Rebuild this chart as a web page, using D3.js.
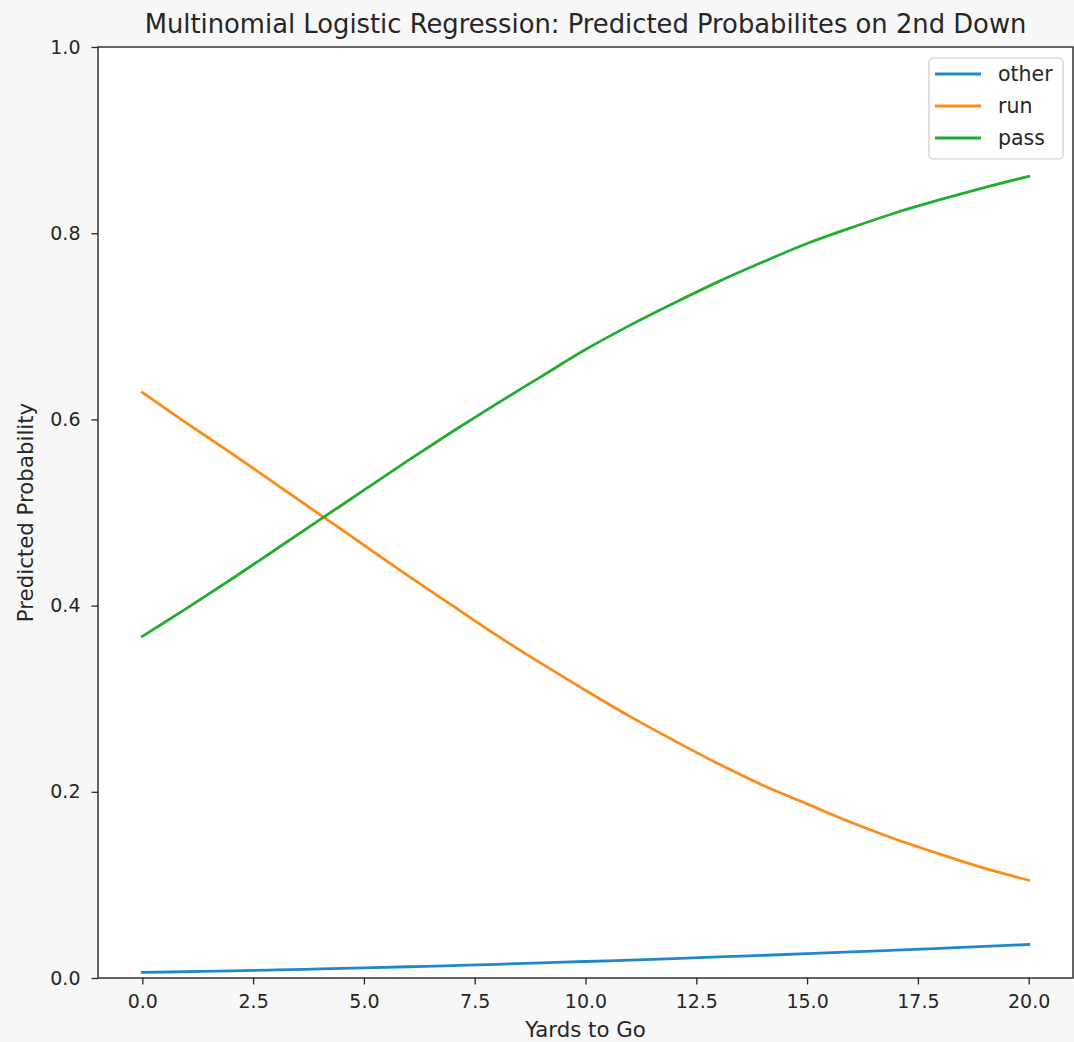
<!DOCTYPE html>
<html>
<head>
<meta charset="utf-8">
<script src="https://cdn.jsdelivr.net/npm/d3@7"></script>
<style>
  body { margin: 0; background: #f8f8f8; }
  svg { display: block; font-family: "DejaVu Sans", sans-serif; }
  .tick text { fill: #262626; }
</style>
</head>
<body>
<svg width="1074" height="1042"></svg>
<script>
let svg = d3.select("svg"),
    width = +svg.attr("width"),
    height = +svg.attr("height");

// yards to go (0..20)
let yards = [0, 1, 2, 3, 4, 5, 6, 7, 8, 9, 10, 11, 12, 13, 14, 15, 16, 17, 18, 19, 20];
// predicted probabilities
let otherProb = [0.006, 0.0068, 0.0077, 0.0087, 0.0097, 0.0109, 0.0121, 0.0134, 0.0147, 0.0162, 0.0177,
                 0.0192, 0.0209, 0.0226, 0.0243, 0.0261, 0.028, 0.0299, 0.0319, 0.0339, 0.036];
let runProb = [0.629, 0.596, 0.564, 0.531, 0.498, 0.465, 0.432, 0.400, 0.368, 0.338, 0.309,
               0.281, 0.255, 0.230, 0.207, 0.187, 0.167, 0.149, 0.133, 0.118, 0.105];
let passProb = [0.367, 0.397, 0.428, 0.460, 0.492, 0.524, 0.556, 0.587, 0.617, 0.646, 0.675,
                0.701, 0.725, 0.748, 0.769, 0.789, 0.806, 0.822, 0.836, 0.849, 0.861];

let seriesNames = ["other", "run", "pass"];
let seriesColors = ["#1f87cc", "#ff8a17", "#21ad2e"];
let xTicks = [0, 2.5, 5, 7.5, 10, 12.5, 15, 17.5, 20];
let yTicks = [0, 0.2, 0.4, 0.6, 0.8, 1.0];

let series = [otherProb, runProb, passProb].map((vals, i) => ({
    name: seriesNames[i],
    color: seriesColors[i],
    values: yards.map((x, j) => ({x: x, y: vals[j]}))
}));

let plot = {left: 98, right: 1073, top: 47, bottom: 978};

let x = d3.scaleLinear().domain([-1, 21]).range([plot.left, plot.right]);
let y = d3.scaleLinear().domain([0, 1]).range([plot.bottom, plot.top]);

//white plot area
svg.append("rect")
    .attr("x", plot.left).attr("y", plot.top)
    .attr("width", plot.right - plot.left)
    .attr("height", plot.bottom - plot.top)
    .attr("fill", "white");

//lines
let line = d3.line()
    .x(d => x(d.x))
    .y(d => y(d.y))
    .curve(d3.curveCatmullRom);

svg.append("g")
    .attr("class", "lines")
    .selectAll("path")
    .data(series).enter().append("path")
        .attr("d", d => line(d.values))
        .attr("fill", "none")
        .attr("stroke", d => d.color)
        .attr("stroke-width", 2.8)
        .attr("stroke-linecap", "square");

//axes
let xAxis = svg.append("g")
    .attr("transform", "translate(0," + plot.bottom + ")")
    .call(d3.axisBottom(x)
        .tickValues(xTicks)
        .tickFormat(d3.format(".1f"))
        .tickSize(6.5)
        .tickPadding(10)
        .tickSizeOuter(0));

let yAxis = svg.append("g")
    .attr("transform", "translate(" + plot.left + ",0)")
    .call(d3.axisLeft(y)
        .tickValues(yTicks)
        .tickFormat(d3.format(".1f"))
        .tickSize(6.5)
        .tickPadding(11)
        .tickSizeOuter(0));

[xAxis, yAxis].forEach(a => {
    a.select(".domain").remove();
    a.selectAll(".tick line").attr("stroke", "#262626").attr("stroke-width", 1.3);
    a.selectAll(".tick text")
        .style("font-family", "DejaVu Sans")
        .style("font-size", "19px");
});

//spines
svg.append("rect")
    .attr("x", plot.left).attr("y", plot.top)
    .attr("width", plot.right - plot.left)
    .attr("height", plot.bottom - plot.top)
    .attr("fill", "none")
    .attr("stroke", "#262626")
    .attr("stroke-width", 1.4);

//title and labels
svg.append("text")
    .attr("x", (plot.left + plot.right) / 2)
    .attr("y", 33)
    .attr("text-anchor", "middle")
    .style("font-size", "25.8px")
    .attr("fill", "#262626")
    .text("Multinomial Logistic Regression: Predicted Probabilites on 2nd Down");

svg.append("text")
    .attr("x", (plot.left + plot.right) / 2)
    .attr("y", 1037)
    .attr("text-anchor", "middle")
    .style("font-size", "21.3px")
    .attr("fill", "#262626")
    .text("Yards to Go");

svg.append("text")
    .attr("transform", "translate(33," + (plot.top + plot.bottom) / 2 + ") rotate(-90)")
    .attr("text-anchor", "middle")
    .style("font-size", "21.3px")
    .attr("fill", "#262626")
    .text("Predicted Probability");

//legend
let legend = svg.append("g")
    .attr("class", "legend")
    .attr("transform", "translate(929,58)");

legend.append("rect")
    .attr("width", 134)
    .attr("height", 101)
    .attr("rx", 4)
    .attr("fill", "white")
    .attr("fill-opacity", 0.8)
    .attr("stroke", "#cccccc")
    .attr("stroke-width", 1.2);

let items = legend.selectAll("g.item")
    .data(series).enter().append("g")
        .attr("class", "item")
        .attr("transform", (d, i) => "translate(0," + (16 + i * 32) + ")");

items.append("line")
    .attr("x1", 6).attr("x2", 52)
    .attr("stroke", d => d.color)
    .attr("stroke-width", 2.8);

items.append("text")
    .attr("x", 69)
    .attr("y", 7)
    .style("font-size", "20.5px")
    .attr("fill", "#262626")
    .text(d => d.name);
</script>
</body>
</html>
